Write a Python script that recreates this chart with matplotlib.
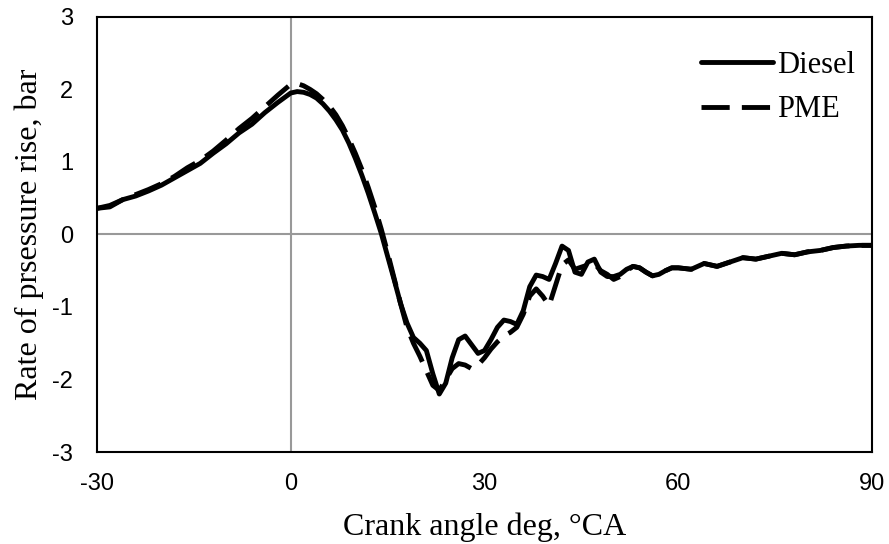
import matplotlib
matplotlib.use('Agg')
import matplotlib.pyplot as plt

# crank angle (deg) and rate of pressure rise (bar)
diesel_x = [-30, -28, -26, -24, -22, -20, -18, -16, -14, -12, -10, -8, -6, -4, -2, 0, 1, 2, 3, 4,
            5, 6, 7, 8, 9, 10, 11, 12, 13, 14, 15, 16, 17, 18, 19, 20, 21, 22, 23, 24,
            25, 26, 27, 28, 29, 30, 31, 32, 33, 34, 35, 36, 37, 38, 39, 40, 41, 42, 43, 44,
            45, 46, 47, 48, 49, 50, 51, 52, 53, 54, 55, 56, 57, 58, 59, 60, 62, 64, 66, 68,
            70, 72, 74, 76, 78, 80, 82, 84, 86, 88, 90]
diesel_y = [0.36, 0.38, 0.48, 0.53, 0.60, 0.68, 0.78, 0.88, 0.98, 1.12, 1.25, 1.40, 1.52, 1.68, 1.82, 1.95, 1.97, 1.96, 1.93, 1.88,
            1.80, 1.70, 1.58, 1.44, 1.26, 1.05, 0.82, 0.57, 0.30, 0.02, -0.30, -0.62, -0.95, -1.22, -1.42, -1.50, -1.60, -1.92, -2.20, -2.05,
            -1.70, -1.45, -1.40, -1.52, -1.64, -1.60, -1.45, -1.28, -1.18, -1.20, -1.24, -1.05, -0.72, -0.56, -0.58, -0.62, -0.40, -0.16, -0.22, -0.52,
            -0.55, -0.38, -0.34, -0.52, -0.58, -0.58, -0.55, -0.48, -0.44, -0.46, -0.52, -0.57, -0.55, -0.50, -0.46, -0.46, -0.48, -0.40, -0.44, -0.38,
            -0.32, -0.34, -0.30, -0.26, -0.28, -0.24, -0.22, -0.18, -0.16, -0.15, -0.15]

pme_x = [-30, -28, -26, -24, -22, -20, -18, -16, -14, -12, -10, -8, -6, -4, -2, 0, 1, 2, 3, 4,
         5, 6, 7, 8, 9, 10, 11, 12, 13, 14, 15, 16, 17, 18, 19, 20, 21, 22, 23, 24,
         25, 26, 27, 28, 29, 30, 31, 32, 33, 34, 35, 36, 37, 38, 39, 40, 41, 42, 43, 44,
         45, 46, 47, 48, 49, 50, 51, 52, 53, 54, 55, 56, 57, 58, 59, 60, 62, 64, 66, 68,
         70, 72, 74, 76, 78, 80, 82, 84, 86, 88, 90]
pme_y = [0.36, 0.40, 0.48, 0.55, 0.62, 0.70, 0.80, 0.92, 1.02, 1.15, 1.30, 1.46, 1.60, 1.76, 1.92, 2.07, 2.08, 2.05, 2.00, 1.94,
         1.86, 1.77, 1.65, 1.50, 1.32, 1.12, 0.90, 0.65, 0.38, 0.08, -0.25, -0.60, -0.95, -1.28, -1.50, -1.68, -1.88, -2.08, -2.15, -2.00,
         -1.85, -1.78, -1.80, -1.85, -1.80, -1.70, -1.58, -1.48, -1.40, -1.35, -1.28, -1.10, -0.85, -0.75, -0.85, -0.98, -0.70, -0.42, -0.35, -0.48,
         -0.45, -0.42, -0.40, -0.50, -0.55, -0.62, -0.58, -0.50, -0.44, -0.46, -0.52, -0.57, -0.55, -0.50, -0.46, -0.46, -0.48, -0.40, -0.44, -0.38,
         -0.32, -0.34, -0.30, -0.26, -0.28, -0.24, -0.22, -0.18, -0.16, -0.15, -0.15]

x_ticks = [-30, 0, 30, 60, 90]
y_ticks = [-3, -2, -1, 0, 1, 2, 3]

serif = ['Liberation Serif', 'DejaVu Serif']
sans = ['Liberation Sans', 'DejaVu Sans']
plt.rcParams['axes.unicode_minus'] = False

fig = plt.figure(figsize=(8.89, 5.44), dpi=100)
ax = fig.add_axes([0.109, 0.169, 0.872, 0.800])

ax.axhline(0, color='#999999', lw=1.5, zorder=1)
ax.axvline(0, color='#999999', lw=1.5, zorder=1)

ax.plot(diesel_x, diesel_y, color='black', lw=3.5, label='Diesel', zorder=3,
        solid_joinstyle='round', solid_capstyle='round')
ax.plot(pme_x, pme_y, color='black', lw=3.5, dashes=(5.8, 2.5), label='PME', zorder=3,
        dash_joinstyle='round')

ax.set_xlim(-30, 90)
ax.set_ylim(-3, 3)
ax.set_xticks(x_ticks)
ax.set_yticks(y_ticks)
ax.tick_params(length=0, labelsize=17)
ax.tick_params(axis='x', pad=15)
ax.tick_params(axis='y', pad=17)
for lab in ax.get_xticklabels() + ax.get_yticklabels():
    lab.set_family(sans)

for sp in ax.spines.values():
    sp.set_linewidth(1.5)
    sp.set_color('black')

ax.set_xlabel('Crank angle deg, \u00b0CA', family=serif, fontsize=23, labelpad=13)
ax.set_ylabel('Rate of prsessure rise, bar', family=serif, fontsize=23, labelpad=6)

ax.legend(loc='center right', bbox_to_anchor=(0.994, 0.837), frameon=False,
          prop={'family': serif, 'size': 22},
          handlelength=2.36, handletextpad=0.15, labelspacing=0.5,
          borderaxespad=0)

plt.savefig('out.png', dpi=100)
